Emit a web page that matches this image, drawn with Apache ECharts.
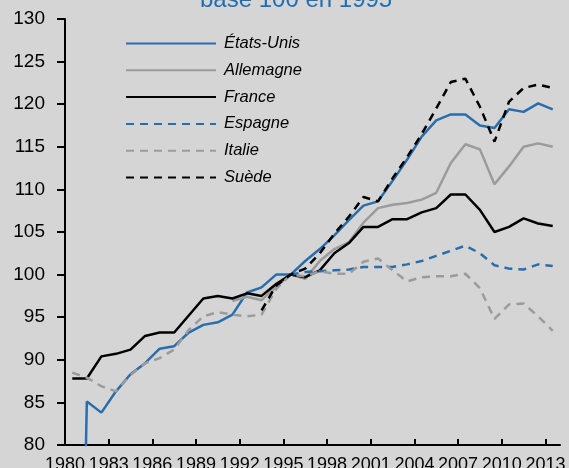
<!DOCTYPE html>
<html>
<head>
<meta charset="utf-8">
<script src="https://cdn.jsdelivr.net/npm/echarts@6/dist/echarts.min.js"></script>
<style>
  html, body { margin: 0; padding: 0; background: #d6d5d6; }
  #chart { width: 569px; height: 468px; }
</style>
</head>
<body>
<div id="chart"></div>
<script>
const years = [];
for (let y = 1980; y <= 2013; y++) years.push(y);

const tickYears = [1980, 1983, 1986, 1989, 1992, 1995, 1998, 2001, 2004, 2007, 2010, 2013];

// base 100 en 1995 ; null = pas de donnée
// 1980 US is read as 0 (line drops off the bottom of the chart)
const etatsUnis = [0, 85.1, 83.8, 86.3, 88.3, 89.6, 91.3, 91.6, 93.2, 94.1,
  94.4, 95.3, 97.9, 98.5, 100.0, 100.0, 101.6, 103.0, 104.6, 106.4,
  108.1, 108.6, 111.0, 113.5, 116.2, 118.1, 118.8, 118.8, 117.5, 117.2,
  119.4, 119.1, 120.1, 119.4];
const allemagne = [null, null, null, null, null, null, null, null, null, null,
  null, 96.9, 97.4, 97.0, 98.6, 100.0, 99.5, 101.6, 103.0, 103.8,
  106.1, 107.8, 108.2, 108.4, 108.8, 109.6, 113.1, 115.3, 114.7, 110.6,
  112.7, 115.0, 115.4, 115.0];
const france = [87.8, 87.8, 90.4, 90.7, 91.2, 92.8, 93.2, 93.2, 95.2, 97.2,
  97.5, 97.2, 97.8, 97.5, 98.9, 100.0, 99.7, 100.5, 102.5, 103.7,
  105.6, 105.6, 106.5, 106.5, 107.3, 107.8, 109.4, 109.4, 107.6, 105.0,
  105.6, 106.6, 106.0, 105.7];
const espagne = [null, null, null, null, null, null, null, null, null, null,
  null, null, null, null, null, 100.0, 100.3, 100.4, 100.5, 100.6,
  100.9, 100.9, 100.9, 101.2, 101.6, 102.2, 102.8, 103.4, 102.5, 101.1,
  100.7, 100.6, 101.2, 101.0];
const italie = [88.5, 87.9, 86.9, 86.3, 88.2, 89.6, 90.2, 91.2, 93.5, 95.1,
  95.6, 95.3, 95.1, 95.3, 98.3, 100.0, 99.8, 100.4, 100.1, 100.1,
  101.5, 101.9, 100.5, 99.2, 99.7, 99.8, 99.8, 100.1, 98.4, 94.8,
  96.5, 96.6, 95.1, 93.4];
const suede = [null, null, null, null, null, null, null, null, null, null,
  null, null, null, 95.8, 98.7, 100.0, 100.7, 102.5, 104.8, 106.8,
  109.1, 108.6, 111.3, 113.8, 116.5, 119.5, 122.6, 123.0, 119.7, 115.6,
  120.3, 121.9, 122.3, 121.9];

const blue = '#2a6dab';
const grey = '#9b9b9b';
const black = '#000000';
const font = "'Liberation Sans', Arial, sans-serif";

// annual values are drawn at mid-year, between the year ticks
function pairs(values) {
  return years.map((y, i) => [y + 0.5, values[i]]);
}

function line(name, values, color, dashed) {
  return {
    name: name,
    type: 'line',
    data: pairs(values),
    symbol: 'none',
    connectNulls: false,
    lineStyle: { color: color, width: 2.5, type: dashed ? [8, 6] : 'solid' },
    itemStyle: { color: color },
    emphasis: { disabled: true }
  };
}

const chart = echarts.init(document.getElementById('chart'), null, { renderer: 'canvas' });

chart.setOption({
  backgroundColor: '#d6d5d6',
  animation: false,
  title: {
    text: 'base 100 en 1995',
    left: 195,
    top: -17,
    textStyle: { color: '#1f6db3', fontSize: 24, fontWeight: 'normal', fontFamily: font }
  },
  legend: {
    orient: 'vertical',
    left: 120,
    top: 30,
    itemWidth: 90,
    itemHeight: 14,
    itemGap: 9.8,
    itemStyle: { opacity: 0 },
    textStyle: { fontSize: 16.5, fontStyle: 'italic', color: '#000', fontFamily: font, padding: [0, 0, 0, 3] },
    data: ['États-Unis', 'Allemagne', 'France', 'Espagne', 'Italie', 'Suède']
  },
  grid: { left: 65, right: 9, top: 19, bottom: 23, outerBoundsMode: 'none' },
  xAxis: {
    type: 'value',
    min: 1980,
    max: 2014,
    interval: 3,
    axisLine: { lineStyle: { color: '#000', width: 2 } },
    axisTick: { inside: true, length: 6, lineStyle: { color: '#000', width: 2 }, customValues: tickYears },
    axisLabel: {
      customValues: tickYears,
      formatter: v => String(v),
      color: '#000', fontSize: 18, fontFamily: font, margin: 11
    },
    splitLine: { show: false }
  },
  yAxis: {
    type: 'value',
    min: 80,
    max: 130,
    interval: 5,
    axisLine: { show: true, lineStyle: { color: '#000', width: 2 } },
    axisTick: { show: true, length: 8, lineStyle: { color: '#000', width: 2 } },
    axisLabel: { color: '#000', fontSize: 19, fontFamily: font, margin: 20 },
    splitLine: { show: false }
  },
  series: [
    line('États-Unis', etatsUnis, blue, false),
    line('Allemagne', allemagne, grey, false),
    line('France', france, black, false),
    line('Espagne', espagne, blue, true),
    line('Italie', italie, grey, true),
    line('Suède', suede, black, true)
  ]
});
</script>
</body>
</html>
